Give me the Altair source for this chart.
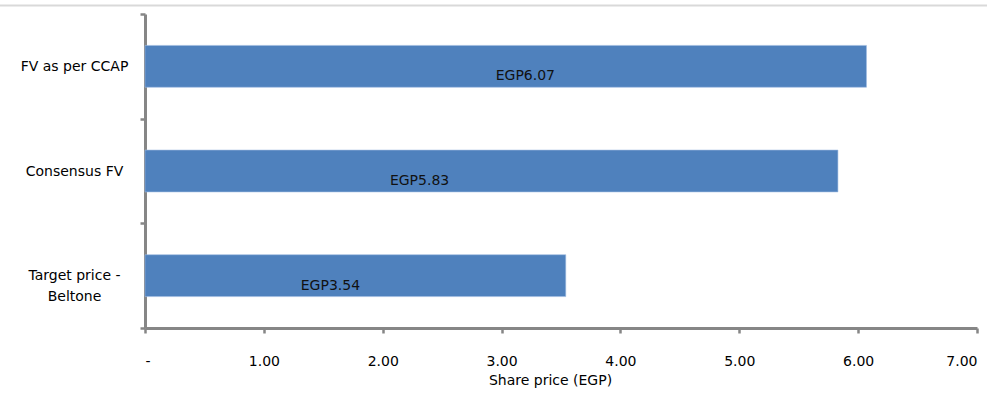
import altair as alt
import pandas as pd

categories = ["FV as per CCAP", "Consensus  FV", "Target price  -\nBeltone"]
values = [6.07, 5.83, 3.54]
label_text = ["EGP6.07", "EGP5.83", "EGP3.54"]
label_pos = [3.20, 2.31, 1.56]
x_ticks = [0, 1, 2, 3, 4, 5, 6, 7]

df = pd.DataFrame({"cat": categories, "val": values, "lab": label_text, "lpos": label_pos})

FONT = "DejaVu Sans"
AXIS_GRAY = "#868686"

y_enc = alt.Y(
    "cat:N",
    sort=categories,
    title=None,
    scale=alt.Scale(paddingInner=0, paddingOuter=0),
    axis=alt.Axis(
        labelExpr="split(datum.label, '\\n')",
        labelAlign="center",
        labelPadding=66,
        labelFont=FONT,
        labelFontSize=14,
        labelColor="#000000",
        labelLineHeight=21,
        tickBand="extent",
        tickSize=5,
        tickWidth=2.5,
        tickColor=AXIS_GRAY,
        domainColor=AXIS_GRAY,
        domainWidth=3,
        grid=False,
    ),
)

bars = alt.Chart(df).mark_bar(
    color="#4f81bd", stroke="#9dbbe0", strokeWidth=0.6, height={"band": 0.4}
).encode(
    x=alt.X(
        "val:Q",
        title="Share price  (EGP)",
        scale=alt.Scale(domain=[0, 7], nice=False),
        axis=alt.Axis(
            values=x_ticks,
            labelExpr="datum.value == 0 ? '-' : format(datum.value, '.2f')",
            labelFont=FONT,
            labelFontSize=14,
            labelColor="#000000",
            labelPadding=21,
            tickSize=5,
            tickWidth=2.5,
            tickColor=AXIS_GRAY,
            domainColor=AXIS_GRAY,
            domainWidth=3,
            grid=False,
            titleFont=FONT,
            titleFontSize=14,
            titleFontWeight="normal",
            titleColor="#000000",
            titlePadding=5,
            titleX=405,
            titleAlign="center",
        ),
    ),
    y=y_enc,
)

labels = alt.Chart(df).mark_text(
    font=FONT, fontSize=14, color="#111111", baseline="middle", align="center", dy=10
).encode(
    x=alt.X("lpos:Q"),
    y=alt.Y("cat:N", sort=categories),
    text="lab:N",
)

top_line = alt.Chart(df.head(1)).mark_rule(color="#d9d9d9", strokeWidth=2).encode(
    x=alt.value(-145), x2=alt.value(842), y=alt.value(-8.5)
)

chart = (
    alt.layer(top_line, bars, labels)
    .properties(
        width=832,
        height=314,
        background="white",
        autosize=alt.AutoSizeParams(type="none"),
        padding={"left": 145, "top": 14, "right": 16, "bottom": 66},
    )
    .configure_view(stroke="transparent", strokeWidth=0, clip=False)
)

chart.save("out.html", embed_options={"renderer": "svg", "actions": False})
